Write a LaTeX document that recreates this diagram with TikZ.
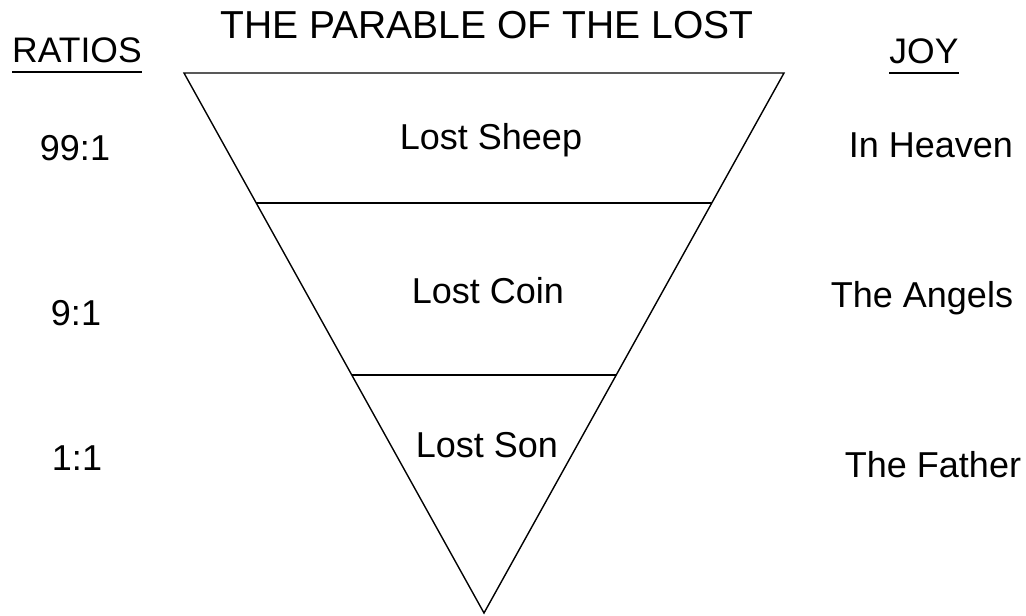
\documentclass[tikz,border=0pt]{standalone}
\usepackage{fontspec}
\setmainfont{Liberation Sans}
\usetikzlibrary{calc}
\begin{document}
\begin{tikzpicture}[x=1pt,y=-1pt,
  lbl/.style={anchor=base,inner sep=0pt,font=\fontsize{36}{40}\selectfont},
  hdr/.style={anchor=base,inner sep=0pt,font=\fontsize{35.5}{40}\selectfont},
  ttl/.style={anchor=base,inner sep=0pt,font=\fontsize{39}{44}\selectfont},
  edge/.style={line width=1.4pt,line join=miter}]
\useasboundingbox[fill=white] (0,0) rectangle (1026,616);
% triangle
\coordinate (tl) at (184,73);
\coordinate (tr) at (784,73);
\coordinate (bot) at (484,613);
\draw[edge] (tl) -- (tr) -- (bot) -- cycle;
\coordinate (l1) at ($(tl)!0.2407!(bot)$);
\coordinate (r1) at ($(tr)!0.2407!(bot)$);
\coordinate (l2) at ($(tl)!0.5593!(bot)$);
\coordinate (r2) at ($(tr)!0.5593!(bot)$);
\draw[edge] (l1) -- (r1);
\draw[edge] (l2) -- (r2);
% title and headers
\node[ttl] (title) at (487,38) {THE PARABLE OF THE LOST};
\node[hdr] (ratios) at (77,62) {RATIOS};
\node[hdr] (joy) at (924,63) {JOY};
\draw[line width=1.3pt] ($(ratios.base west)+(0,10)$) -- ($(ratios.base east)+(0,10)$);
\draw[line width=1.3pt] ($(joy.base west)+(0,10)$) -- ($(joy.base east)+(0,10)$);
% ratios
\node[lbl] (r99) at (75,160) {99:1};
\node[lbl] (r9) at (76,325) {9:1};
\node[lbl] (r1) at (77,470) {1:1};
% lost
\node[lbl] (sheep) at (491,149) {Lost Sheep};
\node[lbl] (coin) at (488,303) {Lost Coin};
\node[lbl] (son) at (487,457) {Lost Son};
% joy
\node[lbl] (heaven) at (931,157) {In Heaven};
\node[lbl] (angels) at (922,307) {The Angels};
\node[lbl] (father) at (933,477) {The Father};
\end{tikzpicture}
\end{document}
